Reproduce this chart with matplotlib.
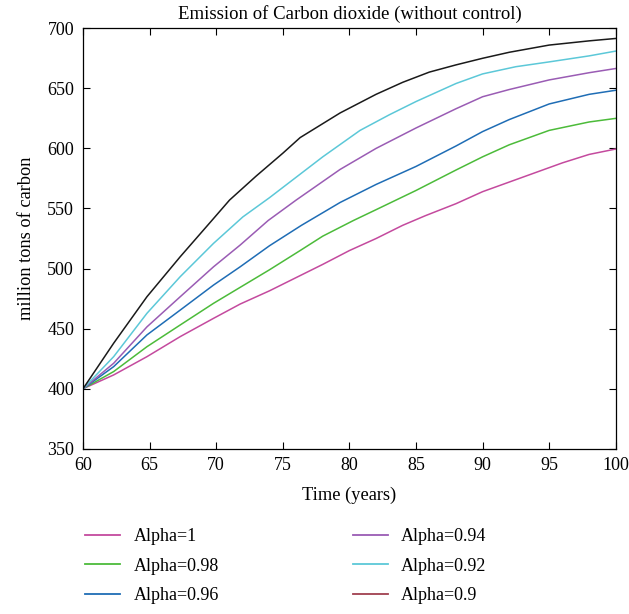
import matplotlib
matplotlib.use("Agg")
import matplotlib.pyplot as plt
from matplotlib.lines import Line2D

TITLE = "Emission of Carbon dioxide (without control)"
X_TITLE = "Time (years)"
Y_TITLE = "million tons of carbon"

LABELS = ["Alpha=1", "Alpha=0.98", "Alpha=0.96", "Alpha=0.94", "Alpha=0.92", "Alpha=0.9"]
COLORS = ["#c44a9e", "#4cbb3a", "#1f6db5", "#9a5cb4", "#5cc8d8", "#1a1a1a"]
LEGEND_COLORS = ["#c44a9e", "#4cbb3a", "#1f6db5", "#9a5cb4", "#5cc8d8", "#a0404f"]

t_a1 = [60, 62.3, 64.8, 67.3, 69.8, 71.8, 74, 76, 78, 80, 82, 84, 85.7, 88, 90, 92, 94, 96, 98, 100]
v_a1 = [400, 411.5, 426.7, 443.4, 458.6, 470.5, 481.5, 492.5, 503.5, 515, 525, 536, 544, 554, 564, 572, 580, 588, 595, 599.5]

t_a098 = [60, 62.3, 64.8, 67.3, 69.8, 71.8, 74, 76.3, 78, 80.3, 82, 85, 88, 90, 92, 95, 98, 100]
v_a098 = [400, 414.3, 435, 453.1, 471.1, 484.4, 499, 515, 527, 540, 549, 565, 582, 593, 603, 615, 622, 625]

t_a096 = [60, 62.3, 64.8, 67.3, 69.8, 71.8, 74, 76.4, 79.3, 82, 85, 88, 90, 92, 95, 98, 100]
v_a096 = [400, 418.4, 444.8, 465.5, 486.3, 501.5, 519, 536, 555, 570, 585, 602, 614, 624, 637, 645, 648.4]

t_a094 = [60, 62.3, 64.8, 67.3, 69.8, 71.8, 73.9, 76, 79.3, 82, 85, 88, 90, 92, 95, 98, 100]
v_a094 = [400, 421.2, 451.5, 476.6, 501.5, 519.6, 540, 557, 582.5, 600, 617, 633, 643, 649, 657, 663, 666.5]

t_a092 = [60, 62.3, 64.8, 67.3, 69.8, 72, 74, 76, 78, 80.8, 83, 85, 88, 90, 92.5, 95, 98, 100]
v_a092 = [400, 426.7, 462.8, 493.3, 521, 543, 559, 576, 593, 615, 628, 639, 654, 662, 668, 672, 677, 681]

t_a09 = [60, 62.3, 64.8, 67.3, 69.7, 71, 73, 75, 76.3, 79.3, 82, 84, 86, 88, 90, 92, 95, 98, 100]
v_a09 = [400, 437.9, 476.6, 509.9, 540.4, 557, 577, 596, 609, 629.5, 645, 655, 663.5, 669.5, 675, 680, 686, 689.5, 691.5]

SERIES = [(t_a1, v_a1), (t_a098, v_a098), (t_a096, v_a096),
          (t_a094, v_a094), (t_a092, v_a092), (t_a09, v_a09)]

plt.rcParams["font.family"] = ["Liberation Serif", "DejaVu Serif"]

fig = plt.figure(figsize=(6.29, 6.14), dpi=100)
ax = fig.add_axes([0.132, 0.269, 0.847, 0.685])

for (t, v), c in zip(SERIES, COLORS):
    ax.plot(t, v, color=c, lw=1.1)

ax.set_xlim(60, 100)
ax.set_ylim(350, 700)
ax.set_xticks(range(60, 101, 5))
ax.set_yticks(range(350, 701, 50))
ax.tick_params(direction="in", top=True, right=True, labelsize=13, length=5, width=0.8)
ax.tick_params(axis="y", pad=6.5)
ax.tick_params(axis="x", pad=6)
for s in ax.spines.values():
    s.set_linewidth(0.9)

ax.set_title(TITLE, fontsize=13.5, pad=7)
ax.set_xlabel(X_TITLE, fontsize=13.2, labelpad=9)
ax.set_ylabel(Y_TITLE, fontsize=13.2, labelpad=9)

handles = [Line2D([0], [0], color=c, lw=1.3) for c in LEGEND_COLORS]
fig.legend(handles, LABELS, ncol=2, loc="upper left", bbox_to_anchor=(0.109, 0.166),
           frameon=False, fontsize=13, handlelength=1.95, handletextpad=0.75,
           columnspacing=7.4, labelspacing=0.68)

fig.savefig("out.png", dpi=100)
